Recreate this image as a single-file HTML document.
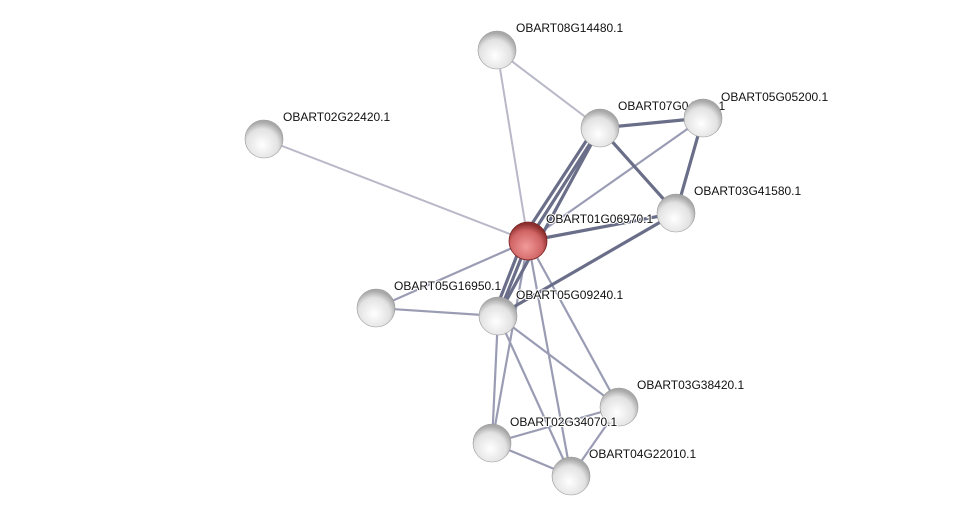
<!DOCTYPE html><html><head><style>body{margin:0;background:#fff}svg{display:block}text{font-family:"Liberation Sans",sans-serif;font-size:12px;fill:#111;paint-order:stroke;stroke:#fff;stroke-width:2px}</style></head><body>
<svg width="975" height="521" viewBox="0 0 975 521">
<defs>
<radialGradient id="g" cx="0.45" cy="0.65" r="0.6"><stop offset="0" stop-color="#fff"/><stop offset="0.7" stop-color="#e2e2e2"/><stop offset="1" stop-color="#a8a8a8"/></radialGradient>
<radialGradient id="r" cx="0.45" cy="0.65" r="0.6"><stop offset="0" stop-color="#f29a9a"/><stop offset="0.7" stop-color="#d06464"/><stop offset="1" stop-color="#8c2e2e"/></radialGradient>
</defs>
<g stroke-linecap="round">
<g stroke="#b8b8c8" stroke-width="2">
<line x1="497" y1="50" x2="528" y2="241"/><line x1="497" y1="50" x2="600" y2="128"/><line x1="264" y1="139" x2="528" y2="241"/>
</g>
<g stroke="#9a9cb4" stroke-width="2.2">
<line x1="376" y1="308" x2="528" y2="241"/><line x1="376" y1="308" x2="498" y2="316"/>
<line x1="528" y1="241" x2="619" y2="407"/><line x1="528" y1="241" x2="571" y2="476"/><line x1="528" y1="241" x2="492" y2="443"/>
<line x1="498" y1="316" x2="619" y2="407"/><line x1="498" y1="316" x2="492" y2="443"/><line x1="498" y1="316" x2="571" y2="476"/>
<line x1="492" y1="443" x2="619" y2="407"/><line x1="492" y1="443" x2="571" y2="476"/><line x1="619" y1="407" x2="571" y2="476"/>
<line x1="528" y1="241" x2="703" y2="118"/>
</g>
<g stroke="#6a6e88" stroke-width="3.2">
<line x1="600" y1="128" x2="703" y2="118"/><line x1="600" y1="128" x2="676" y2="213"/><line x1="703" y1="118" x2="676" y2="213"/>
<line x1="676" y1="213" x2="528" y2="241"/><line x1="676" y1="213" x2="498" y2="316"/>
<line x1="600" y1="128" x2="528" y2="241"/><line x1="596" y1="126" x2="522" y2="239"/><line x1="600" y1="128" x2="498" y2="316"/>
<line x1="528" y1="241" x2="498" y2="316"/><line x1="523" y1="240" x2="494" y2="314"/>
</g>
</g>
<text x="516" y="32">OBART08G14480.1</text>
<text x="283" y="121">OBART02G22420.1</text>
<text x="618" y="110">OBART07G04650.1</text>
<text x="721" y="101">OBART05G05200.1</text>
<text x="694" y="195">OBART03G41580.1</text>
<text x="394" y="290">OBART05G16950.1</text>
<text x="516" y="299">OBART05G09240.1</text>
<text x="637" y="389">OBART03G38420.1</text>
<text x="589" y="458">OBART04G22010.1</text>
<g>
<circle cx="497" cy="50" r="19" fill="url(#g)" stroke="#999" stroke-width="0.6"/>
<circle cx="264" cy="139" r="19" fill="url(#g)" stroke="#999" stroke-width="0.6"/>
<circle cx="600" cy="128" r="19" fill="url(#g)" stroke="#999" stroke-width="0.6"/>
<circle cx="703" cy="118" r="19" fill="url(#g)" stroke="#999" stroke-width="0.6"/>
<circle cx="676" cy="213" r="19" fill="url(#g)" stroke="#999" stroke-width="0.6"/>
<circle cx="528" cy="241" r="19" fill="url(#r)" stroke="#7a2222" stroke-width="0.8"/>
<circle cx="376" cy="308" r="19" fill="url(#g)" stroke="#999" stroke-width="0.6"/>
<circle cx="498" cy="316" r="19" fill="url(#g)" stroke="#999" stroke-width="0.6"/>
<circle cx="619" cy="407" r="19" fill="url(#g)" stroke="#999" stroke-width="0.6"/>
<circle cx="492" cy="443" r="19" fill="url(#g)" stroke="#999" stroke-width="0.6"/>
<circle cx="571" cy="476" r="19" fill="url(#g)" stroke="#999" stroke-width="0.6"/>
</g>
<text x="546" y="223">OBART01G06970.1</text>
<text x="510" y="426">OBART02G34070.1</text>
</svg></body></html>
